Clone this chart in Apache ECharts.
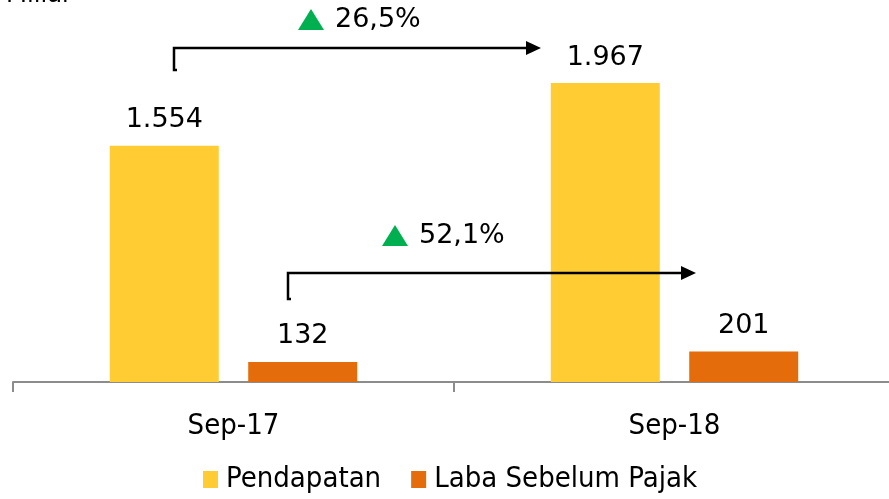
<!DOCTYPE html>
<html>
<head>
<meta charset="utf-8">
<title>Pendapatan dan Laba Sebelum Pajak</title>
<script src="https://cdn.jsdelivr.net/npm/echarts@6/dist/echarts.min.js"></script>
<style>
  html, body { margin: 0; padding: 0; background: #fff; }
  #chart { width: 889px; height: 499px; }
</style>
</head>
<body>
<div id="chart"></div>
<script>
// data
var categories = ['Sep-17', 'Sep-18']
var pendapatan = [1554, 1967]
var labaSebelumPajak = [132, 201]
var growthPendapatan = '26,5%'
var growthLaba = '52,1%'

var FONT = 'DejaVu Sans'
var FONT_COND = 'DejaVu Sans Condensed'
var YELLOW = '#FFCD33'
var ORANGE = '#E46C0A'
var GREEN = '#00B050'

// 1554 -> 1.554
function fmt (v) {
  return String(v).replace(/\B(?=(\d{3})+(?!\d))/g, '.')
}

// growth arrow: bracket start, horizontal line, arrow head
function arrow (x1, x2, y, drop) {
  return [
    {
      type: 'polyline',
      z: 100,
      shape: { points: [[x1 + 3, y + drop], [x1, y + drop], [x1, y], [x2 - 12, y]] },
      style: { stroke: '#000', lineWidth: 2.5, fill: null }
    },
    {
      type: 'polygon',
      z: 100,
      shape: { points: [[x2 - 15, y - 7], [x2, y], [x2 - 15, y + 7]] },
      style: { fill: '#000' }
    }
  ]
}

function growthText (x, y, txt) {
  return [
    {
      type: 'polygon',
      z: 100,
      shape: { points: [[x, y + 10], [x + 13, y - 11], [x + 26, y + 10]] },
      style: { fill: GREEN }
    },
    {
      type: 'text',
      z: 100,
      x: x + 37,
      y: y,
      style: { text: txt, font: '27px "' + FONT + '"', fill: '#000', textVerticalAlign: 'middle' }
    }
  ]
}

var chart = echarts.init(document.getElementById('chart'))

var option = {
  animation: false,
  grid: { left: 13, width: 882, top: 2, bottom: 117, outerBoundsMode: 'none', containLabel: false },
  legend: {
    data: ['Pendapatan', 'Laba Sebelum Pajak'],
    left: 203,
    top: 465,
    padding: 0,
    icon: 'rect',
    itemWidth: 15,
    itemHeight: 17,
    itemGap: 30,
    textStyle: { fontFamily: FONT_COND, fontSize: 29, color: '#000', padding: [0, 0, 0, 3] }
  },
  xAxis: {
    type: 'category',
    data: categories,
    axisLine: { lineStyle: { color: '#8C8C8C', width: 2 } },
    axisTick: { show: true, length: 10, lineStyle: { color: '#8C8C8C', width: 2 } },
    axisLabel: { fontFamily: FONT_COND, fontSize: 29, color: '#000', margin: 30 }
  },
  yAxis: {
    type: 'value',
    min: 0,
    max: 2500,
    show: false,
    splitLine: { show: false }
  },
  series: [
    {
      name: 'Pendapatan',
      type: 'bar',
      data: pendapatan,
      barWidth: 109,
      barGap: '27%',
      itemStyle: { color: YELLOW },
      label: {
        show: true,
        position: 'top',
        distance: 12,
        fontFamily: FONT,
        fontSize: 27,
        color: '#000',
        formatter: function (p) { return fmt(p.value) }
      }
    },
    {
      name: 'Laba Sebelum Pajak',
      type: 'bar',
      data: labaSebelumPajak,
      barWidth: 109,
      itemStyle: { color: ORANGE },
      label: {
        show: true,
        position: 'top',
        distance: 12,
        fontFamily: FONT,
        fontSize: 27,
        color: '#000',
        formatter: function (p) { return fmt(p.value) }
      }
    }
  ],
  graphic: [
    {
      type: 'text',
      right: 817,
      top: -19,
      style: { text: 'Rp Miliar', font: '27px "' + FONT_COND + '"', fill: '#000' }
    }
  ]
    .concat(arrow(174, 541, 48, 22))
    .concat(growthText(298, 20, growthPendapatan))
    .concat(arrow(288, 696, 273, 26))
    .concat(growthText(382, 236, growthLaba))
}

chart.setOption(option)
</script>
</body>
</html>
